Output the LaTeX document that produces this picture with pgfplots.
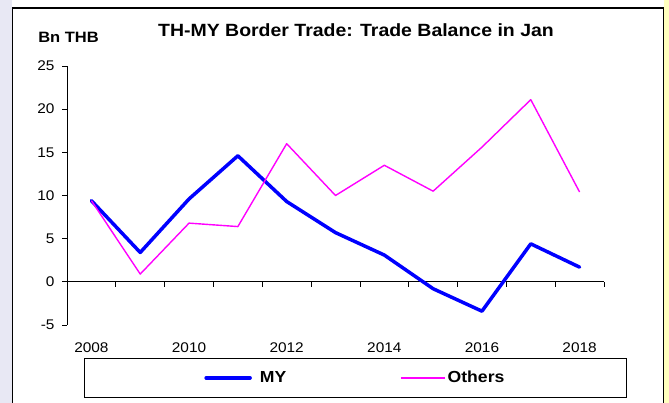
\documentclass[border=0pt]{standalone}
\usepackage{pgfplots}
\pgfplotsset{compat=1.18}
\usepackage{fontspec}
\setmainfont{Liberation Sans}
\newfontfamily\wide[FakeStretch=1.1]{Liberation Sans}
\definecolor{myblue}{RGB}{0,0,255}
\definecolor{mymag}{RGB}{255,0,255}
\definecolor{lav}{RGB}{232,232,244}
\definecolor{yel}{RGB}{255,255,190}
\pgfplotsset{
  legA/.style={legend image code/.code={\draw[##1] (0pt,0pt) -- (44pt,0pt); \path (50pt,0pt);}},
  legB/.style={legend image code/.code={\draw[##1] (0pt,0pt) -- (44pt,0pt);}},
}
\begin{document}
\begin{tikzpicture}[x=1pt,y=1pt]
\useasboundingbox (0,0) rectangle (669,403);
\fill[white] (0,0) rectangle (669,403);
\fill[lav] (0,0) rectangle (12,403);
\fill[yel] (664,0) rectangle (669,403);
\draw[line width=1.2pt] (12.5,-5) -- (12.5,395) -- (663.5,395) -- (663.5,-5);
\node[font=\wide\fontsize{17.7}{20}\selectfont\bfseries] at (356,373) {TH-MY Border Trade: Trade Balance in Jan};
\node[font=\wide\fontsize{15}{17}\selectfont\bfseries] at (68.5,366) {Bn THB};
\begin{axis}[
  scale only axis, width=537pt, height=259pt,
  at={(67pt,78pt)}, anchor=south west,
  xmin=-0.5, xmax=10.5, ymin=-5, ymax=25,
  axis x line=middle, axis y line=left,
  hide obscured x ticks=false, hide obscured y ticks=false,
  axis line style={-, line width=0.8pt},
  xtick={0,2,4,6,8,10}, xticklabels={2008,2010,2012,2014,2016,2018},
  minor xtick={-0.5,0.5,...,10.5},
  ytick={-5,0,...,25},
  tick align=outside,
  tick style={black, line width=0.8pt},
  major x tick style={draw=none},
  major tick length=5pt, minor tick length=5pt,
  xticklabel style={anchor=center, yshift=-61pt},
  yticklabel style={xshift=-4pt},
  ticklabel style={font=\wide\fontsize{14}{16}\selectfont},
  /pgf/number format/assume math mode=true,
  legend columns=2,
  legend style={at={(0.537,-0.127)}, anchor=north, draw=black, line width=0.8pt,
    font=\wide\fontsize{16}{18}\selectfont\bfseries, inner xsep=120pt, inner ysep=11pt,
    /tikz/every even column/.append style={column sep=112pt}},
]
\addplot[myblue, line width=3.5pt, line join=round, line cap=round, legA] coordinates {
(0,9.4) (1,3.4) (2,9.6) (3,14.6) (4,9.3) (5,5.7) (6,3.1) (7,-0.8) (8,-3.4) (9,4.4) (10,1.7)};
\addlegendentry{MY}
\addplot[mymag, line width=1.4pt, line join=round, legB] coordinates {
(0,9.4) (1,0.9) (2,6.8) (3,6.4) (4,16.0) (5,10.0) (6,13.5) (7,10.5) (8,15.6) (9,21.1) (10,10.4)};
\addlegendentry{Others}
\end{axis}
\end{tikzpicture}
\end{document}
